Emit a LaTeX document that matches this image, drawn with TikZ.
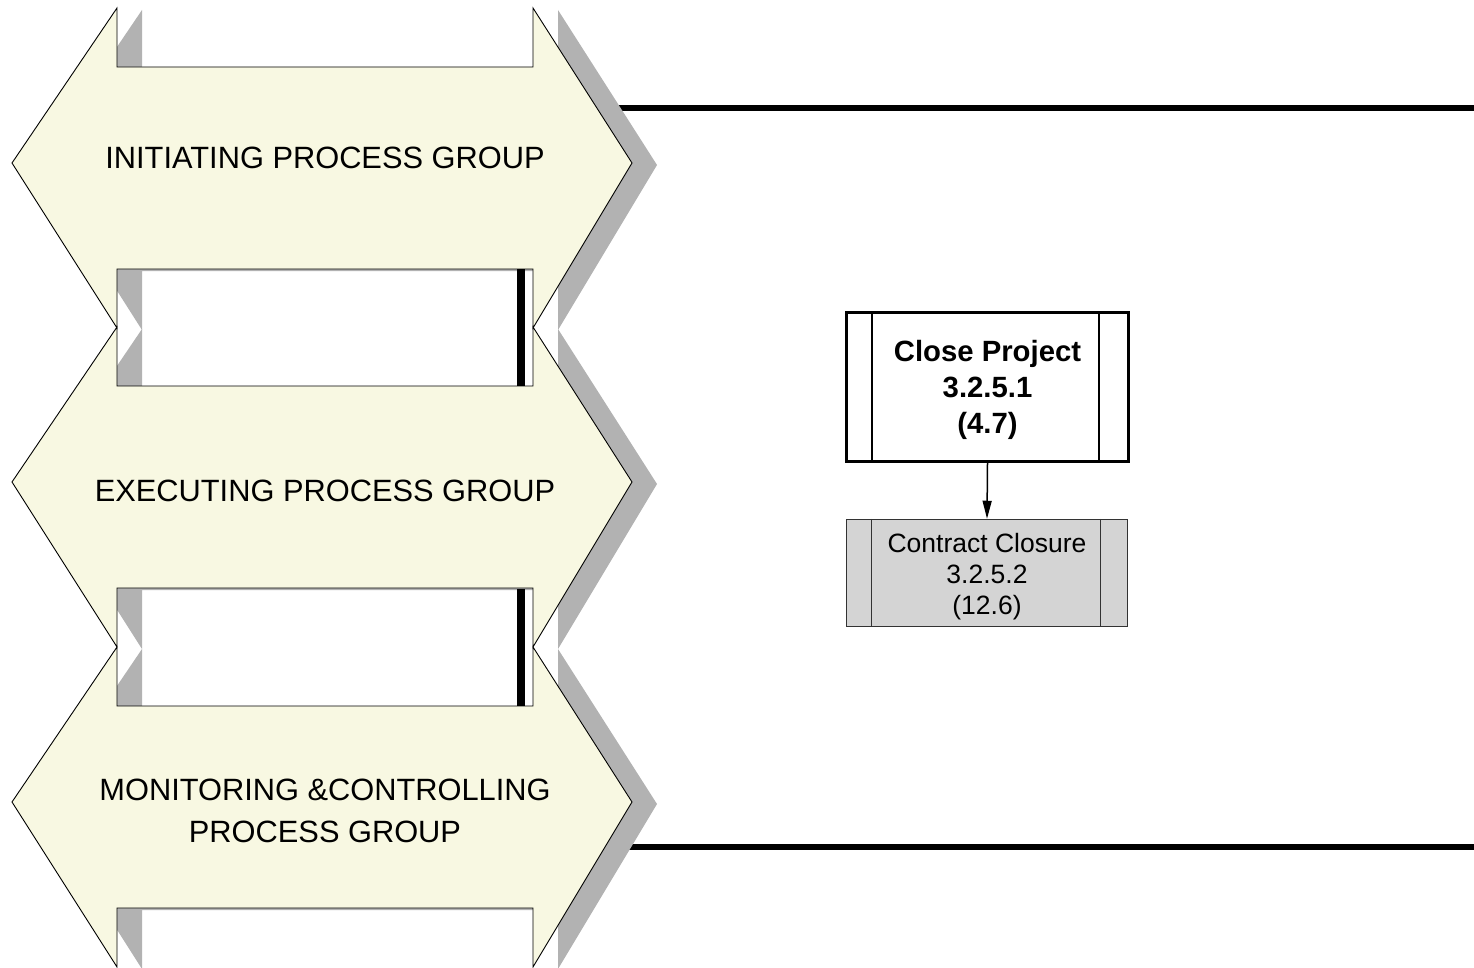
\documentclass[tikz,border=0pt]{standalone}
\usepackage{fontspec}
\setmainfont{Liberation Sans}
\usetikzlibrary{arrows.meta,calc}
\definecolor{cream}{RGB}{248,248,226}
\definecolor{shade}{RGB}{178,178,178}
\definecolor{boxgray}{RGB}{212,212,212}
\tikzset{
 groupshape/.style={fill=cream,draw=black,line width=0.9pt,line join=miter},
 groupshadow/.style={fill=shade},
 grouplabel/.style={font=\fontsize{30.8}{42}\selectfont,align=center,inner sep=0pt},
 notchbar/.style={fill=black},
 heavyline/.style={line width=6pt},
 procmain/.style={draw,line width=3pt,minimum width=282pt,minimum height=149pt,align=center,font=\fontsize{29.3}{36}\selectfont\bfseries,inner sep=0pt},
 procsub/.style={draw=black!80,fill=boxgray,line width=1.5pt,minimum width=281pt,minimum height=107pt,align=center,font=\fontsize{26.5}{31}\selectfont,inner sep=0pt},
 innerline/.style={line width=2pt},
 innerthin/.style={line width=1.2pt,draw=black!80},
 flow/.style={line width=1.5pt,-{Triangle[length=18pt,width=9pt]}},
}
\newcommand{\groupoutline}[1]{(117,#1) -- (117,#1+59) -- (533,#1+59) -- (533,#1) -- (632,#1+155) -- (533,#1+320) -- (533,#1+261) -- (117,#1+261) -- (117,#1+320) -- (12,#1+155) -- cycle}
\begin{document}
\begin{tikzpicture}[x=1pt,y=-1pt]
\useasboundingbox (0,0) rectangle (1474,968);
% heavy horizontal lines
\draw[heavyline] (560,108) -- (1474,108);
\draw[heavyline] (560,847) -- (1474,847);
% shadows
\fill[groupshadow,shift={(25,2)}] \groupoutline{8};
\fill[groupshadow,shift={(25,2)}] \groupoutline{327};
\fill[groupshadow,shift={(25,2)}] \groupoutline{647};
% group shapes
\filldraw[groupshape] \groupoutline{8};
\filldraw[groupshape] \groupoutline{327};
\filldraw[groupshape] \groupoutline{647};
% black bars inside notches
\fill[notchbar] (517,269) rectangle (525,386);
\fill[notchbar] (517,589) rectangle (525,706);
% group labels
\node[grouplabel] (init) at (325,158) {INITIATING PROCESS GROUP};
\node[grouplabel] (exec) at (325,491) {EXECUTING PROCESS GROUP};
\node[grouplabel] (mon) at (325,811) {MONITORING \&CONTROLLING\\PROCESS GROUP};
% process boxes
\node[procmain] (cp) at (987.5,387) {\rule{0pt}{28pt}Close Project\\3.2.5.1\\(4.7)};
\draw[innerline] ($(cp.north west)+(27,0)$) -- ($(cp.south west)+(27,0)$);
\draw[innerline] ($(cp.north east)+(-31,0)$) -- ($(cp.south east)+(-31,0)$);
\node[procsub] (cc) at (987,573) {\rule{0pt}{27pt}Contract Closure\\3.2.5.2\\(12.6)};
\draw[innerthin] ($(cc.north west)+(26,0)$) -- ($(cc.south west)+(26,0)$);
\draw[innerthin] ($(cc.north east)+(-28,0)$) -- ($(cc.south east)+(-28,0)$);
\draw[flow] (cp.south) -- (cc.north);
\end{tikzpicture}
\end{document}
